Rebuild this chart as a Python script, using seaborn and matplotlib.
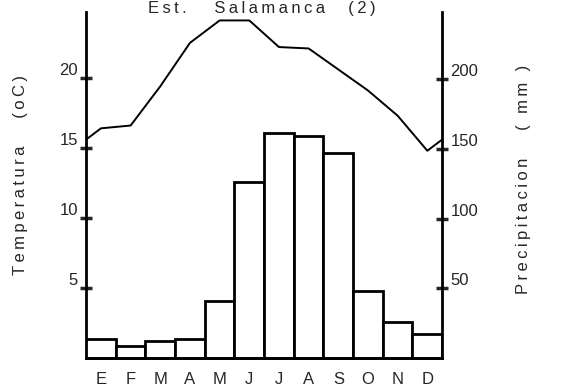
import numpy as np
import pandas as pd
import matplotlib
matplotlib.use("Agg")
import matplotlib.pyplot as plt
import seaborn as sns

meses = ["E", "F", "M", "A", "M", "J", "J", "A", "S", "O", "N", "D"]
temperatura = [16.4, 16.6, 19.4, 22.5, 24.1, 24.1, 22.2, 22.1, 20.6, 19.1, 17.3, 14.8]
precipitacion = [14, 9, 12, 14, 41, 126, 161, 159, 147, 48, 26, 17]
temp_ticks = [5, 10, 15, 20]
prec_ticks = [50, 100, 150, 200]

sns.set_style("white")
plt.rcParams["font.family"] = ["Liberation Sans", "DejaVu Sans"]

veri = pd.DataFrame({"mes": range(12), "prec": precipitacion})

# la curva sigue de diciembre a enero en los bordes
borde = (temperatura[-1] + temperatura[0]) / 2
x_linea = [-0.5] + list(range(12)) + [11.5]
y_linea = [borde] + temperatura + [borde]


def espaciar(texto):
    # letras separadas como en el dibujo original
    return "\u2009".join(texto)


fig = plt.figure(figsize=(5.78, 3.88), dpi=100)
ax = fig.add_axes([0.149, 0.077, 0.616, 0.892])
ax2 = ax.twinx()

sns.barplot(x="mes", y="prec", data=veri, ax=ax2, color="white",
            edgecolor="black", linewidth=2, width=1, saturation=1)
sns.lineplot(x=x_linea, y=y_linea, ax=ax, color="black", linewidth=1.4)

ax.set_xlim(-0.5, 11.5)
ax.set_ylim(0, 24.7)
ax2.set_ylim(0, 248)

ax.set_xticks(range(12))
ax.set_xticklabels(meses, fontsize=12)
ax.tick_params(axis="x", length=0, pad=10)

ax.set_yticks(temp_ticks)
ax.set_yticklabels([str(t) for t in temp_ticks], fontsize=12)
ax2.set_yticks(prec_ticks)
ax2.set_yticklabels([str(t) for t in prec_ticks], fontsize=12)
for a in (ax, ax2):
    a.tick_params(axis="y", direction="inout", length=8, width=2.5, pad=2)
    for lab in a.get_yticklabels():
        lab.set_verticalalignment("bottom")
    a.set_xlabel("")
    a.set_ylabel("")
    a.spines["top"].set_visible(False)
    for s in ("left", "right", "bottom"):
        a.spines[s].set_linewidth(2)
        a.spines[s].set_color("black")
ax.spines["right"].set_visible(False)
ax2.spines["left"].set_visible(False)

fig.text(0.035, 0.549, espaciar("Temperatura") + "      " + espaciar("(oC)"),
         rotation=90, fontsize=12, ha="center", va="center")
fig.text(0.905, 0.538, espaciar("Precipitacion") + "      " + espaciar("( mm )"),
         rotation=90, fontsize=12, ha="center", va="center")
fig.text(148 / 578, 0.998,
         espaciar("Est.") + "      " + espaciar("Salamanca") + "     " + espaciar("(2)"),
         fontsize=12, ha="left", va="top")

fig.savefig("out.png", dpi=100)
